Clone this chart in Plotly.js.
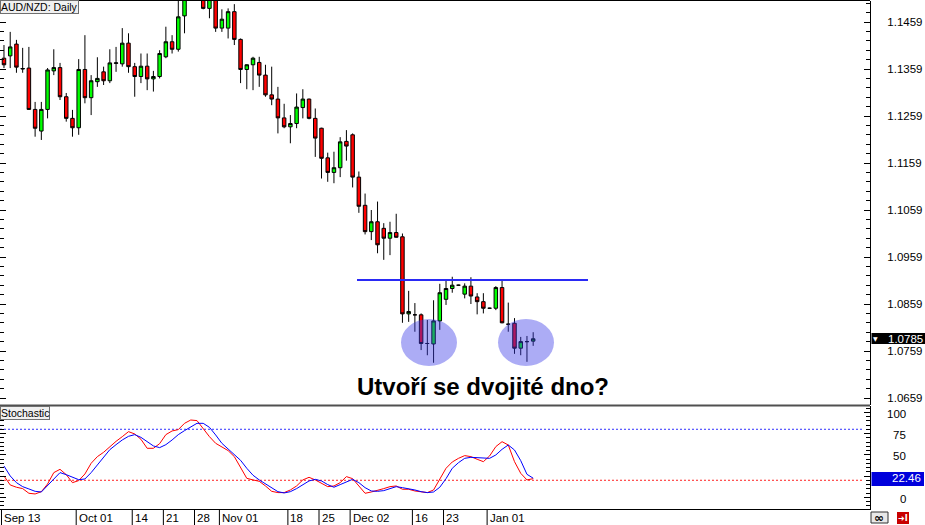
<!DOCTYPE html>
<html><head><meta charset="utf-8">
<script src="https://cdn.plot.ly/plotly-3.0.1.min.js"></script>
<style>html,body{margin:0;padding:0;background:#fff;}#chart{width:925px;height:525px;}</style>
</head><body><div id="chart"></div>
<script>
// ---------------- DATA ----------------
const symbolTitle = 'AUD/NZD: Daily';
const indicatorTitle = 'Stochastic';
const headline = 'Utvoří se dvojité dno?';

const dates = [
 '2013-09-13',
 '2013-09-16','2013-09-17','2013-09-18','2013-09-19','2013-09-20',
 '2013-09-23','2013-09-24','2013-09-25','2013-09-26','2013-09-27',
 '2013-09-30','2013-10-01','2013-10-02','2013-10-03','2013-10-04',
 '2013-10-07','2013-10-08','2013-10-09','2013-10-10','2013-10-11',
 '2013-10-14','2013-10-15','2013-10-16','2013-10-17','2013-10-18',
 '2013-10-21','2013-10-22','2013-10-23','2013-10-24','2013-10-25',
 '2013-10-28','2013-10-29','2013-10-30','2013-10-31','2013-11-01',
 '2013-11-04','2013-11-05','2013-11-06','2013-11-07','2013-11-08',
 '2013-11-11','2013-11-12','2013-11-13','2013-11-14','2013-11-15',
 '2013-11-18','2013-11-19','2013-11-20','2013-11-21','2013-11-22',
 '2013-11-25','2013-11-26','2013-11-27','2013-11-28','2013-11-29',
 '2013-12-02','2013-12-03','2013-12-04','2013-12-05','2013-12-06',
 '2013-12-09','2013-12-10','2013-12-11','2013-12-12','2013-12-13',
 '2013-12-16','2013-12-17','2013-12-18','2013-12-19','2013-12-20',
 '2013-12-23','2013-12-24','2013-12-25','2013-12-26','2013-12-27',
 '2013-12-30','2013-12-31','2014-01-01','2014-01-02','2014-01-03',
 '2014-01-06','2014-01-07','2014-01-08','2014-01-09','2014-01-10'
];

const openP = [
 1.1382,1.1387,1.1412,1.1359,1.1361,1.1273,1.1227,1.1273,1.1355,1.1362,
 1.1300,1.1254,1.1234,1.1358,1.1298,1.1332,1.1353,1.1334,1.1371,1.1370,
 1.1414,1.1364,1.1343,1.1365,1.1338,1.1343,1.1385,1.1417,1.1401,1.1472,
 1.1518,1.1540,1.1525,1.1488,1.1515,1.1446,1.1446,1.1481,1.1422,1.1358,
 1.1368,1.1373,1.1346,1.1304,1.1295,1.1255,1.1236,1.1243,1.1277,1.1295,
 1.1254,1.1233,1.1170,1.1139,1.1149,1.1205,1.1219,1.1129,1.1069,1.1013,
 1.1034,1.1020,1.0999,1.1011,1.1002,1.0838,1.0836,1.0836,1.0775,1.0774,
 1.0823,1.0869,1.0892,1.0899,1.0880,1.0897,1.0874,1.0864,1.0850,1.0850,
 1.0894,1.0816,1.0818,1.0765,1.0779,1.0780
];
const highP = [
 1.1410,1.1438,1.1421,1.1404,1.1406,1.1289,1.1289,1.1361,1.1401,1.1372,
 1.1308,1.1272,1.1380,1.1431,1.1346,1.1384,1.1364,1.1401,1.1406,1.1446,
 1.1435,1.1372,1.1392,1.1392,1.1355,1.1399,1.1449,1.1431,1.1505,1.1528,
 1.1552,1.1558,1.1535,1.1525,1.1520,1.1486,1.1488,1.1497,1.1424,1.1369,
 1.1385,1.1385,1.1368,1.1364,1.1321,1.1285,1.1261,1.1307,1.1316,1.1296,
 1.1275,1.1234,1.1181,1.1183,1.1214,1.1229,1.1222,1.1141,1.1094,1.1059,
 1.1077,1.1031,1.1034,1.1051,1.1009,1.0887,1.0861,1.0839,1.0825,1.0867,
 1.0902,1.0910,1.0917,1.0900,1.0903,1.0916,1.0882,1.0882,1.0851,1.0897,
 1.0909,1.0862,1.0829,1.0789,1.0791,1.0799
];
const lowP = [
 1.1361,1.1361,1.1351,1.1351,1.1272,1.1215,1.1208,1.1254,1.1346,1.1293,
 1.1247,1.1215,1.1219,1.1286,1.1261,1.1321,1.1325,1.1329,1.1353,1.1364,
 1.1351,1.1300,1.1329,1.1314,1.1311,1.1339,1.1382,1.1392,1.1396,1.1435,
 1.1510,1.1512,1.1486,1.1467,1.1438,1.1438,1.1424,1.1410,1.1329,1.1316,
 1.1314,1.1321,1.1300,1.1282,1.1222,1.1233,1.1201,1.1233,1.1254,1.1252,
 1.1172,1.1126,1.1119,1.1116,1.1129,1.1164,1.1107,1.1053,1.1007,1.0995,
 1.0967,1.0953,1.0963,1.1000,1.0819,1.0821,1.0800,1.0761,1.0750,1.0734,
 1.0804,1.0857,1.0883,1.0899,1.0871,1.0859,1.0837,1.0839,1.0850,1.0846,
 1.0818,1.0800,1.0753,1.0750,1.0736,1.0770
];
const closeP = [
 1.1368,1.1406,1.1363,1.1360,1.1273,1.1233,1.1273,1.1357,1.1362,1.1300,
 1.1254,1.1234,1.1358,1.1298,1.1334,1.1339,1.1334,1.1372,1.1372,1.1414,
 1.1364,1.1343,1.1365,1.1338,1.1343,1.1392,1.1417,1.1401,1.1470,1.1518,
 1.1540,1.1525,1.1488,1.1515,1.1446,1.1465,1.1481,1.1422,1.1358,1.1368,
 1.1382,1.1346,1.1304,1.1295,1.1255,1.1236,1.1243,1.1278,1.1295,1.1254,
 1.1212,1.1169,1.1139,1.1149,1.1204,1.1195,1.1129,1.1067,1.1013,1.1034,
 1.0985,1.0999,1.1011,1.1001,1.0838,1.0843,1.0836,1.0775,1.0775,1.0823,
 1.0883,1.0892,1.0899,1.0899,1.0897,1.0876,1.0864,1.0850,1.0850,1.0894,
 1.0819,1.0816,1.0765,1.0779,1.0779,1.0785
];

// Stochastic oscillator (red = %K, blue = %D)
const stochK = [
 25.1,14.5,11.8,10.2,4.7,3.9,6.6,15.6,29.0,32.9,
 26.6,17.2,19.6,27.4,40.0,47.8,52.9,59.6,65.8,71.3,
 77.2,74.5,68.2,57.6,57.6,63.1,73.7,78.0,79.6,87.0,
 90.9,90.2,80.4,71.3,63.5,59.2,54.9,47.8,35.3,22.3,
 20.4,18.8,13.3,7.0,5.5,5.5,8.6,13.3,20.4,23.5,
 20.4,16.4,12.5,13.3,17.2,24.3,21.9,13.3,4.7,6.2,
 7.8,10.2,12.5,13.3,9.4,9.4,7.4,6.2,5.5,8.6,
 21.1,34.1,41.5,45.8,49.0,47.8,44.7,41.9,48.6,59.6,
 65.4,61.5,41.9,28.2,20.4,21.9
];
const stochD = [
 36.8,25.1,17.2,12.5,9.8,7.0,6.2,13.7,21.1,29.0,
 26.6,23.5,20.7,21.5,29.0,38.0,47.0,56.0,61.9,67.4,
 71.7,73.7,70.5,65.1,60.4,58.4,61.9,67.4,73.7,78.4,
 82.3,87.0,87.0,82.3,73.3,63.5,56.8,50.5,43.5,34.1,
 25.9,20.4,15.6,10.5,6.6,5.1,6.6,10.2,14.5,19.2,
 21.1,19.2,14.9,11.8,14.9,18.0,21.1,17.2,11.3,7.4,
 7.0,7.8,10.5,12.5,11.3,10.2,8.6,6.6,5.5,6.2,
 11.8,21.9,34.1,40.7,45.8,47.0,46.6,45.8,45.8,49.8,
 56.4,61.5,55.6,43.1,27.0,22.46
];

const tickDates  = ['2013-09-13','2013-10-01','2013-10-14','2013-10-21','2013-10-28','2013-11-01','2013-11-18','2013-11-25','2013-12-02','2013-12-16','2013-12-23','2014-01-01'];
const tickLabels = ['Sep 13','Oct 01','14','21','28','Nov 01','18','25','Dec 02','16','23','Jan 01'];
const stochLevels = [80, 20];
const stochLabelVals = [100, 75, 50, 0];
const resistance = 1.0910;

// ---------------- LAYOUT HELPERS ----------------
const W = 925, H = 525, ML = 0, MR = 55, MT = 1, MB = 16;
const PW = W - ML - MR, PH = H - MT - MB;
const px = x => (x - ML) / PW;          // pixel x -> paper
const py = y => (H - MB - y) / PH;      // pixel y -> paper
const FONT = 'Liberation Sans, Arial, Helvetica, sans-serif';
const lastClose = closeP[closeP.length - 1];
const lastD = stochD[stochD.length - 1];

const candle = {
  type: 'candlestick', x: dates, open: openP, high: highP, low: lowP, close: closeP,
  xaxis: 'x', yaxis: 'y',
  increasing: {line: {color: '#000', width: 1}, fillcolor: '#00FF00'},
  decreasing: {line: {color: '#000', width: 1}, fillcolor: '#FF0000'},
  whiskerwidth: 0, hoverinfo: 'skip'
};
const kLine = {type: 'scatter', mode: 'lines', x: dates, y: stochK, xaxis: 'x', yaxis: 'y2',
  line: {color: '#FF0000', width: 1}, hoverinfo: 'skip'};
const dLine = {type: 'scatter', mode: 'lines', x: dates, y: stochD, xaxis: 'x', yaxis: 'y2',
  line: {color: '#0000FF', width: 1}, hoverinfo: 'skip'};

const shapes = [];
const annotations = [];

// top border and panel separator
shapes.push({type: 'line', xref: 'paper', yref: 'paper', x0: 0, x1: 1, y0: py(0.5), y1: py(0.5), line: {color: '#000', width: 1}});
shapes.push({type: 'line', xref: 'paper', yref: 'paper', x0: 0, x1: 1, y0: py(405.5), y1: py(405.5), line: {color: '#505050', width: 2}});

// stochastic levels
const levelColors = ['#3030FF', '#FF2020'];
stochLevels.forEach((lv, i) => shapes.push({type: 'line', layer: 'below', xref: 'paper', yref: 'y2',
  x0: 0, x1: px(862), y0: lv, y1: lv, line: {color: levelColors[i], width: 1, dash: '2px,2px'}}));

// resistance line
shapes.push({type: 'line', xref: 'paper', yref: 'y', x0: px(357), x1: px(588), y0: resistance, y1: resistance,
  line: {color: '#2A2AF5', width: 2}});

// highlight ellipses
[[401, 457], [498, 554]].forEach(([a, b]) => shapes.push({type: 'circle', xref: 'paper', yref: 'paper',
  x0: px(a), x1: px(b), y0: py(366), y1: py(319), fillcolor: 'rgba(57,57,232,0.42)', line: {width: 0}}));

// date separators + labels
tickDates.forEach((d, i) => {
  const k = dates.indexOf(d);
  shapes.push({type: 'line', xref: 'x', yref: 'paper', x0: k - 0.4, x1: k - 0.4, y0: 0, y1: py(525),
    line: {color: '#000', width: 1}});
  annotations.push({xref: 'x', yref: 'paper', x: d, y: py(518), xanchor: 'left', yanchor: 'middle', xshift: -2,
    text: tickLabels[i], showarrow: false, font: {family: FONT, size: 11.5, color: '#000'}});
});

// current price box
shapes.push({type: 'rect', xref: 'paper', yref: 'paper', x0: px(871.5), x1: px(925), y0: py(344), y1: py(333),
  fillcolor: '#000', line: {width: 0}});
annotations.push({xref: 'paper', yref: 'y', x: px(886), y: lastClose, xanchor: 'left', yanchor: 'middle',
  text: lastClose.toFixed(4), showarrow: false, font: {family: FONT, size: 11.5, color: '#fff'}});
annotations.push({xref: 'paper', yref: 'y', x: px(875.5), y: lastClose, xanchor: 'center', yanchor: 'middle',
  text: '▼', showarrow: false, font: {family: 'DejaVu Sans', size: 6, color: '#fff'}});

// stochastic value box
shapes.push({type: 'rect', xref: 'paper', yref: 'paper', x0: px(871.5), x1: px(924), y0: py(486), y1: py(472),
  fillcolor: '#0000DC', line: {width: 0}});
annotations.push({xref: 'paper', yref: 'y2', x: px(923), y: lastD, xanchor: 'right', yanchor: 'middle',
  text: lastD.toFixed(2), showarrow: false, font: {family: FONT, size: 11.5, color: '#fff'}});

// stochastic axis labels
stochLabelVals.forEach(v => annotations.push({xref: 'paper', yref: 'y2', x: px(908), y: v, xanchor: 'right', yanchor: 'middle',
  yshift: -1.5, text: String(v), showarrow: false, font: {family: FONT, size: 11.5, color: '#000'}}));

// panel title boxes
annotations.push({xref: 'paper', yref: 'paper', x: 0, y: py(0), xanchor: 'left', yanchor: 'top',
  text: symbolTitle, showarrow: false, bgcolor: '#f0f0f0', bordercolor: '#6f6f6f', borderwidth: 1, borderpad: 0,
  font: {family: FONT, size: 10.5, color: '#000'}});
annotations.push({xref: 'paper', yref: 'paper', x: 0, y: py(406), xanchor: 'left', yanchor: 'top',
  text: indicatorTitle, showarrow: false, bgcolor: '#f0f0f0', bordercolor: '#6f6f6f', borderwidth: 1, borderpad: 0,
  font: {family: FONT, size: 10.5, color: '#000'}});

// headline
annotations.push({xref: 'paper', yref: 'paper', x: px(482.5), y: py(386), xanchor: 'center', yanchor: 'middle',
  text: '<b>' + headline + '</b>', showarrow: false, font: {family: FONT, size: 24, color: '#000'}});

// bottom-right icons
shapes.push({type: 'rect', xref: 'paper', yref: 'paper', x0: px(871), x1: px(888), y0: py(523), y1: py(512),
  fillcolor: '#e8e8e8', line: {color: '#303030', width: 1}});
annotations.push({xref: 'paper', yref: 'paper', x: px(879.5), y: py(517.5), xanchor: 'center', yanchor: 'middle',
  text: '<b>∞</b>', showarrow: false, font: {family: 'DejaVu Sans', size: 12, color: '#000'}});
shapes.push({type: 'rect', xref: 'paper', yref: 'paper', x0: px(897), x1: px(909), y0: py(524), y1: py(512),
  fillcolor: '#C80000', line: {width: 0}});
annotations.push({xref: 'paper', yref: 'paper', x: px(903), y: py(518), xanchor: 'center', yanchor: 'middle',
  text: '<b>➜I</b>', showarrow: false, font: {family: 'DejaVu Sans', size: 8, color: '#fff'}});

const layout = {
  width: W, height: H, margin: {l: ML, r: MR, t: MT, b: MB, pad: 0},
  paper_bgcolor: '#fff', plot_bgcolor: '#fff', showlegend: false, hovermode: false,
  boxgap: 0.2, boxgroupgap: 0.3,
  font: {family: FONT, size: 11.5, color: '#000'},
  xaxis: {type: 'category', range: [-0.64, 139.1], anchor: 'y2', showline: true, linecolor: '#000', linewidth: 1,
    ticks: '', showticklabels: false, showgrid: false, zeroline: false, rangeslider: {visible: false}, fixedrange: true},
  yaxis: {domain: [0.2047, 1], range: [1.06441, 1.15037], side: 'right', anchor: 'x',
    showline: true, linecolor: '#000', linewidth: 1, mirror: 'ticks',
    ticks: 'inside', ticklen: 6, tickcolor: '#000', tickmode: 'linear', tick0: 1.1459, dtick: 0.01, tickformat: '.4f',
    ticklabelstandoff: 14,
    minor: {tickmode: 'linear', tick0: 1.1459, dtick: 0.002, ticks: 'inside', ticklen: 4, tickcolor: '#000', showgrid: false},
    showgrid: false, zeroline: false, fixedrange: true,
    tickfont: {family: FONT, size: 11.5, color: '#000'}},
  yaxis2: {domain: [0, 0.2028], range: [-13.8, 107.4], side: 'right', anchor: 'x',
    showline: true, linecolor: '#000', linewidth: 1, mirror: 'ticks',
    ticks: 'inside', ticklen: 6, tickcolor: '#000', tickmode: 'linear', tick0: 0, dtick: 25, showticklabels: false,
    minor: {tickmode: 'linear', tick0: 0, dtick: 5, ticks: 'inside', ticklen: 4, tickcolor: '#000', showgrid: false},
    showgrid: false, zeroline: false, fixedrange: true},
  shapes: shapes,
  annotations: annotations
};

Plotly.newPlot('chart', [candle, kLine, dLine], layout, {staticPlot: true, displayModeBar: false});
</script>
</body></html>
